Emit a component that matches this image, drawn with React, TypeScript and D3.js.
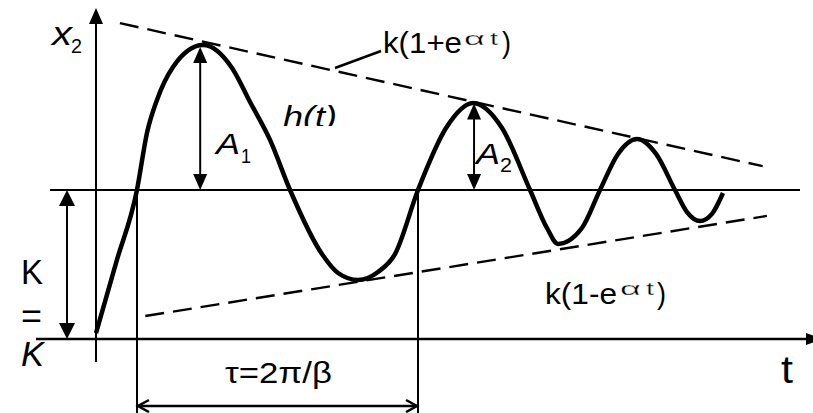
import * as d3 from "d3";

// response curve h(t) (t in arbitrary units, value in units of K)
const curveT = [0, 0.284, 0.582, 0.724, 0.866, 1.094, 1.52, 1.932, 2.188, 2.472, 2.756, 3.21, 3.438, 3.722, 4.006, 4.247, 4.574, 4.972, 5.355, 5.767, 6.165, 6.406, 6.562, 6.903, 7.159, 7.415, 7.685, 7.955, 8.224, 8.395, 8.58, 8.75, 8.906];
const curveV = [0.04, 0.51, 1.0, 1.383, 1.604, 1.826, 1.973, 1.819, 1.591, 1.336, 1.0, 0.57, 0.443, 0.396, 0.45, 0.57, 1.0, 1.416, 1.584, 1.416, 1.0, 0.745, 0.638, 0.745, 1.0, 1.242, 1.342, 1.242, 1.0, 0.852, 0.792, 0.84, 0.98];

// envelopes k(1+e^at) and k(1-e^at)
const upperEnvT = [0.34, 9.47];
const upperEnvV = [2.12, 1.16];
const lowerEnvT = [0.7, 9.53];
const lowerEnvV = [0.154, 0.826];

// amplitude markers and the period
const ampT = [1.48, 5.37];
const ampV = [1.96, 1.58];
const periodT = [0.582, 4.574];

const W = 813;
const H = 413;
const FONT = "'Liberation Sans', Arial, sans-serif";

const x = d3.scaleLinear().domain([0, 10]).range([96, 800]);
const y = d3.scaleLinear().domain([0, 1]).range([339, 190]);

const toPts = (ts: number[], vs: number[]) => ts.map((t, i) => [t, vs[i]] as [number, number]);

const line = d3
  .line<[number, number]>()
  .x((d) => x(d[0]))
  .y((d) => y(d[1]));

const smooth = d3
  .line<[number, number]>()
  .x((d) => x(d[0]))
  .y((d) => y(d[1]))
  .curve(d3.curveMonotoneX);

// filled arrow head, tip at (tx,ty), pointing in dir
const head = (tx: number, ty: number, dir: "up" | "down" | "right", len = 16, half = 7) => {
  if (dir === "up") return `M${tx},${ty}L${tx - half},${ty + len}L${tx + half},${ty + len}Z`;
  if (dir === "down") return `M${tx},${ty}L${tx - half},${ty - len}L${tx + half},${ty - len}Z`;
  return `M${tx},${ty}L${tx - len},${ty - half}L${tx - len},${ty + half}Z`;
};

// superscript "αt", stretched wide but kept thin
const Sup = ({ x0, base }: { x0: number; base: number }) => (
  <g stroke="#fff" strokeWidth={0.3}>
    <text x={x0} y={base} fontSize={19} textLength={21} lengthAdjust="spacingAndGlyphs">α</text>
    <text x={x0 + 26} y={base} fontSize={19} textLength={8} lengthAdjust="spacingAndGlyphs">t</text>
  </g>
);

export default function App() {
  const x0 = x(0);
  const yK = y(1);
  const yAxis = y(0);
  const p0 = x(periodT[0]);
  const p1 = x(periodT[1]);
  const tauY = 406;

  return (
    <svg
      width={W}
      height={H}
      viewBox={`0 0 ${W} ${H}`}
      style={{ position: "absolute", left: 0, top: 0, background: "#fff" }}
      fontFamily={FONT}
    >
      <defs>
        <clipPath id="hclip">
          <rect x={270} y={90} width={90} height={36} />
        </clipPath>
      </defs>

      {/* axes */}
      <line x1={x0} y1={20} x2={x0} y2={362} stroke="#000" strokeWidth={2} />
      <path d={head(x0, 8, "up", 16, 7)} fill="#000" />
      <line x1={36} y1={yAxis} x2={808} y2={yAxis} stroke="#000" strokeWidth={2.5} />
      <path d={head(823, yAxis, "right", 17, 6)} fill="#000" />

      {/* steady state level K */}
      <line x1={50} y1={yK} x2={800} y2={yK} stroke="#000" strokeWidth={2} />

      {/* period verticals */}
      {periodT.map((t, i) => (
        <line key={i} x1={x(t)} y1={yK} x2={x(t)} y2={H} stroke="#000" strokeWidth={2} />
      ))}

      {/* envelopes */}
      <path d={line(toPts(upperEnvT, upperEnvV)) || ""} fill="none" stroke="#000" strokeWidth={2.4} strokeDasharray="19,9" />
      <path d={line(toPts(lowerEnvT, lowerEnvV)) || ""} fill="none" stroke="#000" strokeWidth={2.4} strokeDasharray="19,9" />
      <line x1={335} y1={68} x2={381} y2={51} stroke="#000" strokeWidth={2.4} />

      {/* response */}
      <path d={smooth(toPts(curveT, curveV)) || ""} fill="none" stroke="#000" strokeWidth={4.5} strokeLinejoin="round" />

      {/* amplitude arrows */}
      {ampT.map((t, i) => (
        <g key={i}>
          <line x1={x(t)} y1={y(ampV[i]) + 10} x2={x(t)} y2={yK - 10} stroke="#000" strokeWidth={2} />
          <path d={head(x(t), y(ampV[i]), "up", 16, 7)} fill="#000" />
          <path d={head(x(t), yK, "down", 16, 7)} fill="#000" />
        </g>
      ))}

      {/* K arrow */}
      <line x1={67} y1={yK + 10} x2={67} y2={yAxis - 10} stroke="#000" strokeWidth={2} />
      <path d={head(67, yK, "up", 16, 8)} fill="#000" />
      <path d={head(67, yAxis, "down", 16, 8)} fill="#000" />

      {/* period arrow */}
      <line x1={p0} y1={tauY} x2={p1} y2={tauY} stroke="#000" strokeWidth={2.5} />
      <path d={`M${p0 + 12},${tauY - 6}L${p0 + 1},${tauY}L${p0 + 12},${tauY + 6}`} fill="none" stroke="#000" strokeWidth={2.5} />
      <path d={`M${p1 - 12},${tauY - 6}L${p1 - 1},${tauY}L${p1 - 12},${tauY + 6}`} fill="none" stroke="#000" strokeWidth={2.5} />

      {/* labels */}
      <text x={52} y={45} fontSize={34} fontStyle="italic" textLength={20} lengthAdjust="spacingAndGlyphs">x</text>
      <text x={71} y={53} fontSize={21} textLength={11} lengthAdjust="spacingAndGlyphs">2</text>

      <text x={383} y={53} fontSize={30} textLength={79} lengthAdjust="spacingAndGlyphs">k(1+e</text>
      <Sup x0={464} base={45} />
      <text x={502} y={53} fontSize={30} textLength={9} lengthAdjust="spacingAndGlyphs">)</text>

      <text x={545} y={304} fontSize={30} textLength={72} lengthAdjust="spacingAndGlyphs">k(1-e</text>
      <Sup x0={620} base={295} />
      <text x={657} y={304} fontSize={30} textLength={9} lengthAdjust="spacingAndGlyphs">)</text>

      <text x={283} y={127} fontSize={30} fontStyle="italic" textLength={54} lengthAdjust="spacingAndGlyphs" clipPath="url(#hclip)">h(t)</text>

      <text x={216} y={154} fontSize={30} fontStyle="italic" textLength={24} lengthAdjust="spacingAndGlyphs">A</text>
      <text x={241} y={163} fontSize={20} textLength={10} lengthAdjust="spacingAndGlyphs">1</text>
      <text x={476} y={164} fontSize={30} fontStyle="italic" textLength={24} lengthAdjust="spacingAndGlyphs">A</text>
      <text x={500} y={172} fontSize={20} textLength={12} lengthAdjust="spacingAndGlyphs">2</text>

      <text x={21} y={284} fontSize={35} textLength={22} lengthAdjust="spacingAndGlyphs">K</text>
      <text x={21} y={328} fontSize={35} textLength={21} lengthAdjust="spacingAndGlyphs">=</text>
      <text x={21} y={366} fontSize={35} fontStyle="italic" textLength={23} lengthAdjust="spacingAndGlyphs">K</text>

      <text x={781} y={383} fontSize={38} textLength={12} lengthAdjust="spacingAndGlyphs">t</text>

      <text x={225} y={383} fontSize={29} textLength={107} lengthAdjust="spacingAndGlyphs">τ=2π/β</text>
    </svg>
  );
}
